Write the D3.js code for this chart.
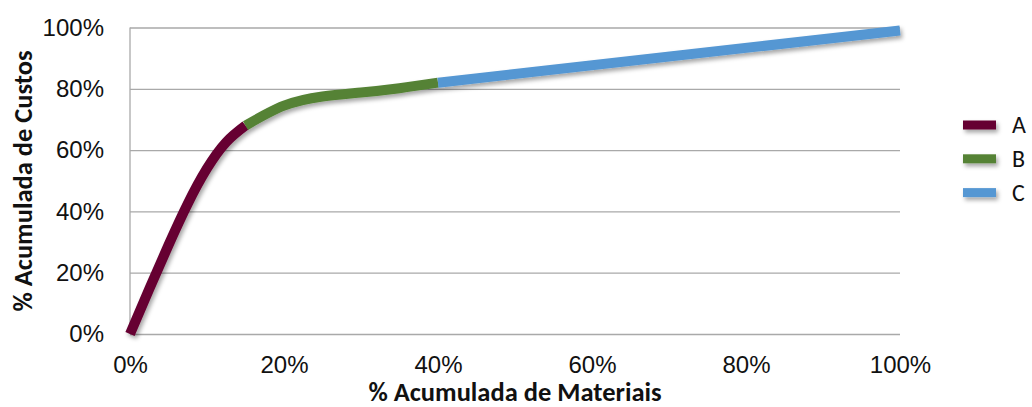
<!DOCTYPE html>
<html>
<head>
<meta charset="utf-8">
<script src="https://cdn.jsdelivr.net/npm/d3@7"></script>
<style>
  html, body { margin: 0; padding: 0; background: #fff; }
  svg { display: block; font-family: Carlito, Calibri, Lato, sans-serif; }
</style>
</head>
<body>
<svg id="chart" width="1032" height="407"></svg>
<script>
// ABC curve: cumulative share of materials vs cumulative share of costs
const classes = ["A", "B", "C"];
const colors = ["#660033", "#548235", "#5597d3"];
const xA = [0, 2.5, 5, 7.5, 10, 12.5, 15];
const yA = [0, 14.7, 29, 42.5, 54, 62.6, 68];
const xB = [15, 20, 25, 30, 35, 40];
const yB = [68, 74.5, 77.5, 78.8, 80.2, 82];
const xC = [40, 100];
const yC = [82, 99];
const yTicks = [0, 20, 40, 60, 80, 100];
const xTicks = [0, 20, 40, 60, 80, 100];
const xTitle = "% Acumulada de Materiais";
const yTitle = "% Acumulada de Custos";

const series = [
  { name: classes[0], xs: xA, ys: yA, color: colors[0] },
  { name: classes[1], xs: xB, ys: yB, color: colors[1] },
  { name: classes[2], xs: xC, ys: yC, color: colors[2] }
];

const svg = d3.select("#chart");
const x = d3.scaleLinear().domain([0, 100]).range([130, 900]);
const y = d3.scaleLinear().domain([0, 100]).range([334, 27.5]);

// soft shadow under the lines
const defs = svg.append("defs");
const f = defs.append("filter").attr("id", "shadow")
  .attr("filterUnits", "userSpaceOnUse")
  .attr("x", 0).attr("y", 0).attr("width", 1032).attr("height", 407);
f.append("feDropShadow").attr("dx", 2).attr("dy", 3).attr("stdDeviation", 2)
  .attr("flood-color", "#000").attr("flood-opacity", 0.35);

// horizontal gridlines
const yAxis = d3.axisLeft(y).tickValues(yTicks).tickFormat(d => d + "%")
  .tickSize(-(900 - 130)).tickPadding(26);
const gy = svg.append("g").attr("transform", "translate(130,0)").call(yAxis);
gy.select(".domain").remove();
gy.selectAll(".tick line").attr("stroke", "#a9a9a9").attr("stroke-width", 1.3);
gy.selectAll(".tick text").attr("font-size", 24).attr("fill", "#111").attr("x", -26);

// left axis line
svg.append("line").attr("x1", 130).attr("x2", 130).attr("y1", y(100)).attr("y2", y(0))
  .attr("stroke", "#a9a9a9").attr("stroke-width", 1.3);

// x tick labels
const xAxis = d3.axisBottom(x).tickValues(xTicks).tickFormat(d => d + "%")
  .tickSize(0).tickPadding(22);
const gx = svg.append("g").attr("transform", `translate(0,${y(0)})`).call(xAxis);
gx.select(".domain").remove();
gx.selectAll(".tick text").attr("font-size", 24).attr("fill", "#111");

// axis titles
svg.append("text").attr("x", 515).attr("y", 401).attr("text-anchor", "middle")
  .attr("font-size", 26.5).attr("font-weight", "bold").attr("fill", "#111").text(xTitle);
svg.append("text").attr("transform", "translate(32,181) rotate(-90)")
  .attr("text-anchor", "middle").attr("font-size", 26.5).attr("font-weight", "bold")
  .attr("fill", "#111").text(yTitle);

// curve segments
const line = d3.line().x(d => x(d[0])).y(d => y(d[1])).curve(d3.curveNatural);
const gLines = svg.append("g").attr("filter", "url(#shadow)");
series.forEach(s => {
  const pts = s.xs.map((v, i) => [v, s.ys[i]]);
  gLines.append("path").attr("d", line(pts)).attr("fill", "none")
    .attr("stroke", s.color).attr("stroke-width", 10).attr("stroke-linecap", "butt")
    .attr("stroke-linejoin", "round");
});

// legend
const legend = svg.append("g");
series.forEach((s, i) => {
  const ly = 125 + i * 33.8;
  legend.append("rect").attr("x", 963).attr("y", ly - 4.5).attr("width", 33).attr("height", 9)
    .attr("fill", s.color).attr("filter", "url(#shadow)");
  legend.append("text").attr("x", 1012).attr("y", ly).attr("dy", "0.35em")
    .attr("font-size", 24).attr("fill", "#111").text(s.name);
});
</script>
</body>
</html>
